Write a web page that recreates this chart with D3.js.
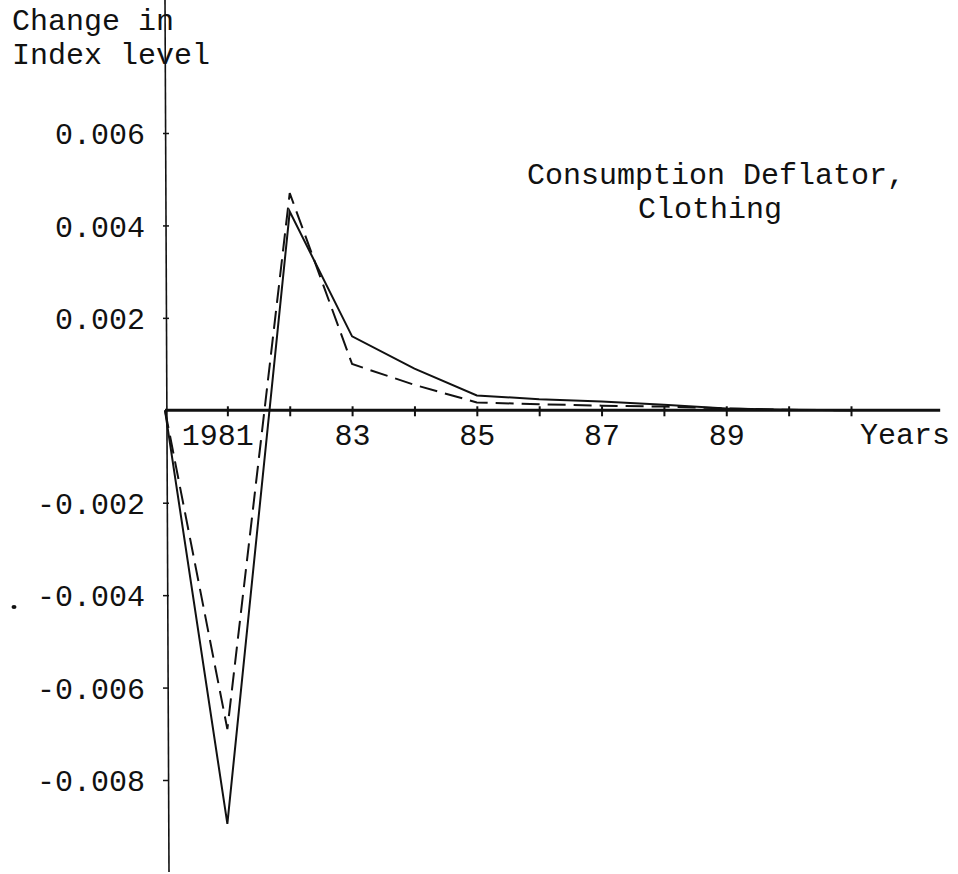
<!DOCTYPE html>
<html>
<head>
<meta charset="utf-8">
<script src="https://cdn.jsdelivr.net/npm/d3@7"></script>
<style>
  body { margin: 0; background: #fff; }
  text { font-family: "Liberation Mono", "DejaVu Sans Mono", monospace; font-size: 30px; fill: #111; }
</style>
</head>
<body>
<script>
// Years on the horizontal axis
var years = [1980, 1981, 1982, 1983, 1984, 1985, 1986, 1987, 1988, 1989, 1990, 1991];
// solid line
var solid = [0, -0.00895, 0.0043, 0.0016, 0.0009, 0.00032, 0.00024, 0.00019, 0.00012, 0.00004, 0.00001, 0];
// dashed line
var dashed = [0, -0.0069, 0.0047, 0.001, 0.00055, 0.00017, 0.00013, 0.0001, 0.00008, 0.00004, 0.00001, 0];

var yTicks = [0.006, 0.004, 0.002, -0.002, -0.004, -0.006, -0.008];
var xTickYears = [1981, 1982, 1983, 1984, 1985, 1986, 1987, 1988, 1989, 1990, 1991];
var xLabels = {1981: "1981", 1983: "83", 1985: "85", 1987: "87", 1989: "89"};

var svg = d3.select("body")
  .append("svg")
    .attr("width", 958)
    .attr("height", 874);

var x = d3.scaleLinear().domain([1980, 1991]).range([165, 851]);
var y = d3.scaleLinear().domain([0.006, -0.008]).range([133, 780]);

// vertical axis
svg.append("line")
    .attr("x1", 165).attr("y1", 0)
    .attr("x2", 169).attr("y2", 872)
    .attr("stroke", "#111").attr("stroke-width", 1.6);

var yAxis = svg.append("g")
    .attr("transform", "translate(166,0)")
    .call(d3.axisLeft(y).tickValues(yTicks).tickSize(3)
      .tickFormat(function(d) { return d3.format(".3f")(d).replace("−", "-"); }));
yAxis.select(".domain").remove();
yAxis.selectAll(".tick line").attr("x2", 3).attr("x1", -3).attr("stroke", "#111").attr("stroke-width", 1.5);
yAxis.selectAll(".tick text")
    .attr("x", -21)
    .attr("dy", "0.36em")
    .style("font-family", "Liberation Mono, monospace")
    .style("font-size", "30px")
    .attr("fill", "#111");

// horizontal axis
svg.append("line")
    .attr("x1", x(1980)).attr("y1", y(0))
    .attr("x2", x(1992.43)).attr("y2", y(0))
    .attr("stroke", "#111").attr("stroke-width", 3);

var xAxis = svg.append("g")
    .attr("transform", "translate(0," + y(0) + ")")
    .call(d3.axisBottom(x).tickValues(xTickYears).tickSize(5)
      .tickFormat(function(d) { return xLabels[d] || ""; }));
xAxis.select(".domain").remove();
xAxis.selectAll(".tick line").attr("y1", -4).attr("y2", 6).attr("stroke", "#111").attr("stroke-width", 2);
xAxis.selectAll(".tick text")
    .attr("y", 35)
    .attr("dy", 0)
    .attr("dx", function(d) { return d === 1981 ? -10 : 0; })
    .style("font-family", "Liberation Mono, monospace")
    .style("font-size", "30px")
    .attr("fill", "#111");

svg.append("text").attr("x", 860).attr("y", 444).text("Years");

// axis title
svg.append("text").attr("x", 12).attr("y", 30).text("Change in");
svg.append("text").attr("x", 12).attr("y", 64).text("Index level");

// chart caption
svg.append("text").attr("x", 716).attr("y", 184).attr("text-anchor", "middle").text("Consumption Deflator,");
svg.append("text").attr("x", 710).attr("y", 218).attr("text-anchor", "middle").text("Clothing");

// stray mark in the scan
svg.append("ellipse").attr("cx", 14).attr("cy", 607).attr("rx", 2.5).attr("ry", 2).attr("fill", "#111");

var line = d3.line()
    .x(function(d, i) { return x(years[i]); })
    .y(function(d) { return y(d); });

svg.append("path")
    .datum(solid)
    .attr("d", line)
    .attr("fill", "none")
    .attr("stroke", "#111")
    .attr("stroke-width", 2);

svg.append("path")
    .datum(dashed)
    .attr("d", line)
    .attr("fill", "none")
    .attr("stroke", "#111")
    .attr("stroke-width", 2)
    .attr("stroke-dasharray", "18,8");
</script>
</body>
</html>
